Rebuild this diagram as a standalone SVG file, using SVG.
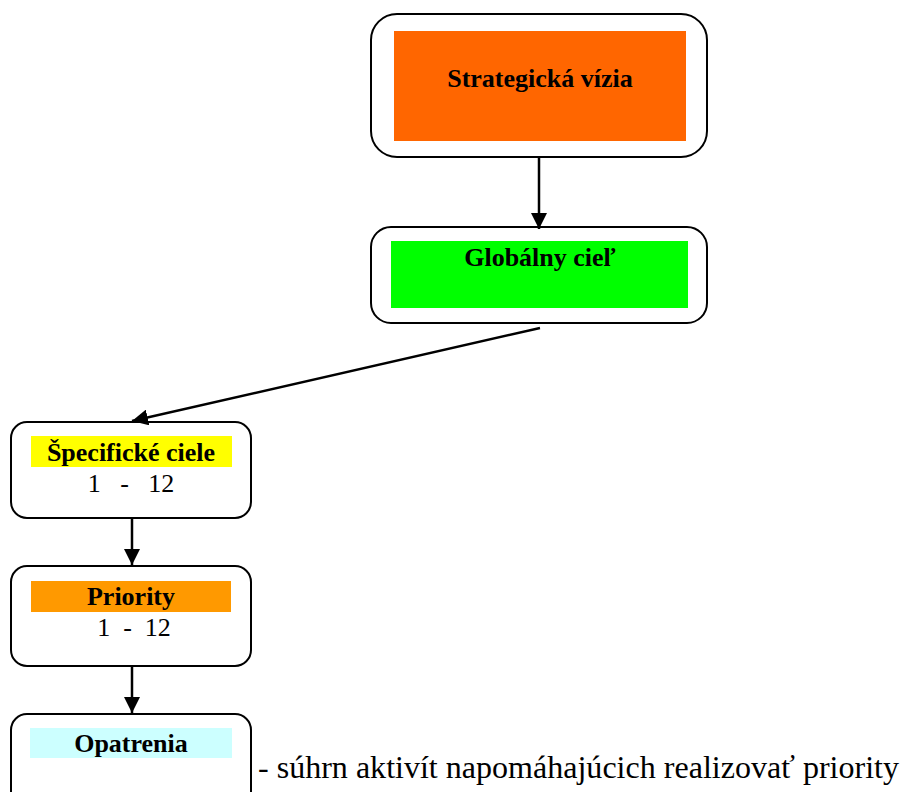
<svg xmlns="http://www.w3.org/2000/svg" width="902" height="792" viewBox="0 0 902 792">
<style>
.box{fill:#fff;stroke:#000;stroke-width:2}
.lbl{font-family:"Times New Roman","Liberation Serif",Times,serif;font-weight:bold;font-size:26px;fill:#000;text-anchor:middle}
.num{font-family:"Times New Roman","Liberation Serif",Times,serif;font-size:26px;fill:#000;text-anchor:middle}
.note{font-family:"Times New Roman","Liberation Serif",Times,serif;font-size:31px;fill:#000}
.conn{stroke:#000;stroke-width:2.5;fill:none;marker-end:url(#ah)}
</style>
<defs>
<marker id="ah" markerUnits="userSpaceOnUse" markerWidth="16" markerHeight="16" viewBox="0 0 16 16" refX="16" refY="8" orient="auto">
<path d="M0,0 L16,8 L0,16 Z" fill="#000"/>
</marker>
</defs>
<rect width="902" height="792" fill="#fff"/>
<g id="strategicka-vizia">
<rect class="box" x="371" y="14" width="336" height="143" rx="26" ry="26"/>
<rect x="394" y="31" width="292" height="110" fill="#FF6600"/>
<text class="lbl" x="540" y="87">Strategická vízia</text>
</g>
<g id="globalny-ciel">
<rect class="box" x="371" y="227" width="336" height="96" rx="20" ry="20"/>
<rect x="391" y="241" width="297" height="67" fill="#00FF00"/>
<text class="lbl" x="540" y="266">Globálny cieľ</text>
</g>
<g id="specificke-ciele">
<rect class="box" x="11" y="422" width="240" height="96" rx="16" ry="16"/>
<rect x="31" y="436" width="201" height="31" fill="#FFFF00"/>
<text class="lbl" x="131" y="461">Špecifické ciele</text>
<text class="num" x="131" y="492" xml:space="preserve">1   -   12</text>
</g>
<g id="priority">
<rect class="box" x="11" y="566" width="240" height="100" rx="16" ry="16"/>
<rect x="31" y="581" width="200" height="31" fill="#FF9900"/>
<text class="lbl" x="131" y="605">Priority</text>
<text class="num" x="134" y="636" xml:space="preserve">1  -  12</text>
</g>
<g id="opatrenia">
<rect class="box" x="11" y="714" width="240" height="100" rx="16" ry="16"/>
<rect x="30" y="728" width="202" height="30" fill="#CCFFFF"/>
<text class="lbl" x="131" y="752">Opatrenia</text>
<text class="note" x="258" y="778" textLength="641" lengthAdjust="spacingAndGlyphs">- súhrn aktivít napomáhajúcich realizovať priority</text>
</g>
<g id="connectors">
<line class="conn" x1="539" y1="157" x2="539" y2="229"/>
<line class="conn" x1="540" y1="328" x2="132" y2="421"/>
<line class="conn" x1="132" y1="518" x2="132" y2="565"/>
<line class="conn" x1="132" y1="666" x2="132" y2="713"/>
</g>
</svg>
